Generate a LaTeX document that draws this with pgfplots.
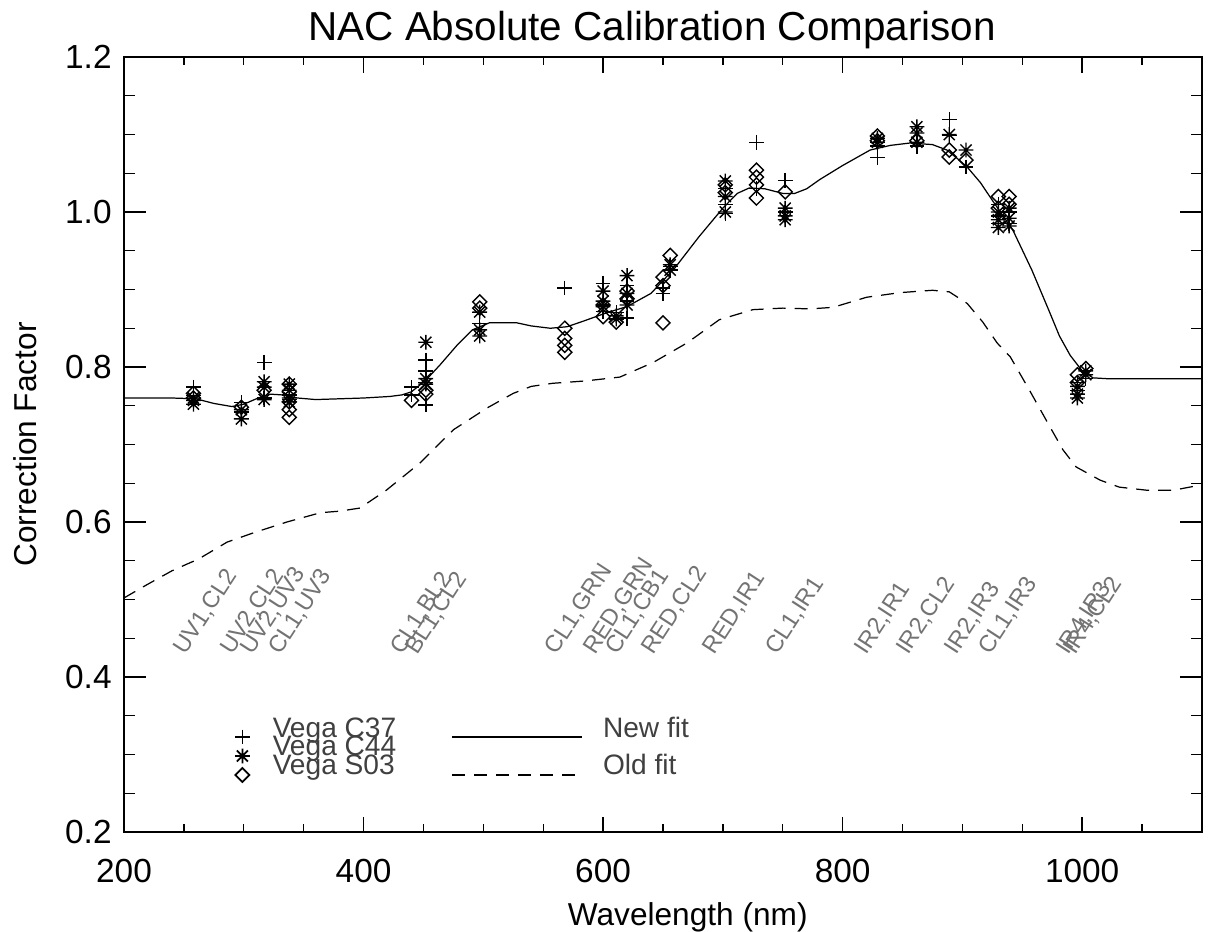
\documentclass[border=0pt]{standalone}
\usepackage{fontspec}
\setmainfont{Liberation Sans}
\usepackage{pgfplots}
\pgfplotsset{compat=1.18}

% IDL style asterisk (8 arms) and square diamond
\pgfdeclareplotmark{idlstar}{%
  \pgfpathmoveto{\pgfqpoint{-\pgfplotmarksize}{0pt}}\pgfpathlineto{\pgfqpoint{\pgfplotmarksize}{0pt}}%
  \pgfpathmoveto{\pgfqpoint{0pt}{-\pgfplotmarksize}}\pgfpathlineto{\pgfqpoint{0pt}{\pgfplotmarksize}}%
  \pgfpathmoveto{\pgfqpoint{-.75\pgfplotmarksize}{-.75\pgfplotmarksize}}\pgfpathlineto{\pgfqpoint{.75\pgfplotmarksize}{.75\pgfplotmarksize}}%
  \pgfpathmoveto{\pgfqpoint{-.75\pgfplotmarksize}{.75\pgfplotmarksize}}\pgfpathlineto{\pgfqpoint{.75\pgfplotmarksize}{-.75\pgfplotmarksize}}%
  \pgfusepathqstroke}
\pgfdeclareplotmark{idldiam}{%
  \pgfpathmoveto{\pgfqpoint{0pt}{\pgfplotmarksize}}%
  \pgfpathlineto{\pgfqpoint{\pgfplotmarksize}{0pt}}%
  \pgfpathlineto{\pgfqpoint{0pt}{-\pgfplotmarksize}}%
  \pgfpathlineto{\pgfqpoint{-\pgfplotmarksize}{0pt}}%
  \pgfpathclose\pgfusepathqstroke}

\pgfplotsset{
  longsolid/.style={legend image code/.code={\draw[black, line width=0.5pt] (0mm,0mm) -- (13mm,0mm);}},
  longdash/.style={legend image code/.code={\draw[black, line width=0.5pt, dash pattern=on 1.3mm off 0.9mm] (0mm,0mm) -- (13mm,0mm);}},
}
\newcommand{\flab}[2]{\node[rotate=57, anchor=base west, inner sep=0pt, text=black!55, font=\fontsize{6.7}{7}\selectfont] at (axis cs:#1,0.427) {#2};}

\begin{document}
\begin{tikzpicture}
\begin{axis}[
  scale only axis, width=107.8mm, height=77.5mm,
  xmin=200, xmax=1100, ymin=0.2, ymax=1.2,
  xtick={200,400,600,800,1000}, ytick={0.2,0.4,0.6,0.8,1.0,1.2},
  minor xtick={250,300,350,450,500,550,650,700,750,850,900,950,1050},
  minor ytick={0.25,0.3,0.35,0.45,0.5,0.55,0.65,0.7,0.75,0.85,0.9,0.95,1.05,1.1,1.15},
  tick align=inside,
  xtick style={black, line width=0.4pt, /pgfplots/major tick length=1.55mm, /pgfplots/minor tick length=0.78mm},
  ytick style={black, line width=0.4pt, /pgfplots/major tick length=2.16mm, /pgfplots/minor tick length=1.08mm},
  axis line style={line width=0.4pt},
  ticklabel style={font=\fontsize{9.5}{11}\selectfont},
  /pgf/number format/assume math mode=true,
  /pgf/number format/1000 sep={},
  yticklabel style={/pgf/number format/fixed, /pgf/number format/fixed zerofill, /pgf/number format/precision=1},
  xticklabel style={anchor=base, yshift=-5mm},
  title={NAC Absolute Calibration Comparison},
  every axis title/.style={at={(axis description cs:0.49,1)}, anchor=base, yshift=1.7mm, font=\fontsize{11.5}{13}\selectfont},
  xlabel={Wavelength (nm)},
  ylabel={Correction Factor},
  every axis x label/.style={at={(axis description cs:0.523,0)}, anchor=base, yshift=-9.3mm, font=\fontsize{9}{11}\selectfont},
  every axis y label/.style={at={(axis description cs:-0.092,0.5)}, rotate=90, anchor=center, font=\fontsize{9}{11}\selectfont},
  legend columns=2,
  legend cell align=left,
  legend style={at={(axis cs:292.7,0.343)}, anchor=north west, draw=none, fill=none,
    inner sep=0pt, outer sep=0pt, font=\fontsize{8}{9}\selectfont, text=black!75,
    nodes={inner sep=0pt, text height=4.5pt, text depth=0pt, anchor=base west},
    row sep=-1.2pt,
    /tikz/column 1/.style={column sep=2.3mm},
    /tikz/column 2/.style={column sep=5.5mm},
    /tikz/column 3/.style={column sep=2mm}},
]
\coordinate (axsw) at (rel axis cs:0,0);

% Old fit
\addplot[forget plot, black, line width=0.35pt, dash pattern=on 1.3mm off 0.9mm] coordinates {
(200,0.502) (219,0.519) (240,0.537) (253,0.546) (262,0.552) (286,0.574) (308,0.586)
(336,0.600) (364,0.612) (380,0.614) (397,0.618) (419,0.641) (447,0.676) (475,0.719)
(503,0.747) (525,0.766) (540,0.775) (558,0.779) (585,0.782) (614,0.787) (642,0.806)
(670,0.831) (697,0.861) (725,0.874) (750,0.876) (773,0.875) (792,0.877) (820,0.890)
(848,0.896) (875,0.899) (889,0.897) (904,0.882) (917,0.858) (929,0.831) (940,0.813)
(956,0.770) (973,0.723) (984,0.693) (995,0.671) (1015,0.654) (1031,0.645) (1054,0.641)
(1076,0.641) (1100,0.648)};

% New fit
\addplot[forget plot, black, line width=0.35pt] coordinates {
(200,0.760) (220,0.760) (240,0.760) (260,0.759) (275,0.753) (290,0.749) (300,0.752)
(312,0.760) (322,0.765) (332,0.764) (345,0.760) (360,0.758) (380,0.759) (400,0.760)
(422,0.762) (432,0.764) (440,0.768) (452,0.783) (464,0.803) (478,0.828) (491,0.848)
(505,0.857) (528,0.857) (540,0.853) (556,0.850) (570,0.852) (585,0.860) (603,0.870)
(620,0.878) (640,0.895) (660,0.928) (680,0.968) (700,1.005) (712,1.024) (722,1.031)
(735,1.030) (750,1.024) (760,1.024) (770,1.030) (781,1.042) (800,1.060) (823,1.080)
(840,1.086) (856,1.089) (875,1.087) (887,1.080) (895,1.070) (904,1.058) (915,1.038)
(925,1.015) (942,0.977) (958,0.925) (973,0.870) (981,0.840) (990,0.815) (1000,0.795)
(1009,0.786) (1020,0.785) (1100,0.785)};

% Vega C37
\addplot[forget plot, only marks, mark=+, mark size=2.1pt, black, line width=0.4pt] coordinates {
(258,0.774) (258,0.763) (298,0.754) (298,0.742) (317,0.806) (317,0.760)
(338,0.764) (338,0.758) (440,0.774) (440,0.764)
(452,0.809) (452,0.795) (452,0.751) (452,0.780) (497,0.870) (497,0.856)
(568,0.902) (600,0.908) (600,0.880) (600,0.872) (611,0.870) (611,0.862)
(620,0.905) (620,0.863) (620,0.885) (650,0.895) (650,0.902) (656,0.925) (656,0.930)
(702,1.030) (702,1.010) (702,0.998) (728,1.090) (728,1.030) (752,1.041) (752,1.000)
(829,1.070) (829,1.085) (862,1.090) (862,1.085) (889,1.119) (889,1.099) (903,1.058)
(930,0.995) (930,0.985) (930,1.010) (939,1.000) (939,0.985)
(996,0.770) (996,0.780) (1003,0.785)};

% Vega C44
\addplot[forget plot, only marks, mark=idlstar, mark size=2.1pt, black, line width=0.4pt] coordinates {
(258,0.757) (258,0.752) (258,0.760) (298,0.745) (298,0.733)
(317,0.781) (317,0.774) (317,0.758) (338,0.778) (338,0.770) (338,0.760) (338,0.755)
(452,0.832) (452,0.785) (452,0.778) (497,0.871) (497,0.848) (497,0.840)
(600,0.898) (600,0.885) (600,0.878) (611,0.866) (611,0.862)
(620,0.918) (620,0.895) (620,0.880) (656,0.932) (656,0.925)
(702,1.040) (702,1.020) (702,1.000) (752,1.005) (752,0.995) (752,0.990)
(829,1.095) (829,1.090) (862,1.110) (862,1.102) (862,1.090) (889,1.100) (903,1.080)
(930,0.980) (930,0.990) (930,1.000) (939,0.982) (939,0.992) (939,1.005)
(996,0.765) (996,0.760) (996,0.775) (1003,0.795) (1003,0.790)};

% Vega S03
\addplot[forget plot, only marks, mark=idldiam, mark size=2pt, black, line width=0.4pt] coordinates {
(258,0.766) (258,0.760) (298,0.748) (317,0.770)
(338,0.778) (338,0.768) (338,0.755) (338,0.745) (338,0.735)
(440,0.757) (452,0.770) (452,0.765) (497,0.884) (497,0.876)
(568,0.850) (568,0.837) (568,0.828) (568,0.819) (600,0.880) (600,0.865) (611,0.858)
(620,0.898) (620,0.888) (650,0.916) (650,0.857) (650,0.905) (656,0.944)
(702,1.025) (702,1.035) (728,1.054) (728,1.045) (728,1.035) (728,1.018) (752,1.026)
(829,1.098) (829,1.092) (862,1.092) (889,1.080) (889,1.071) (903,1.067)
(930,1.020) (930,1.005) (939,1.020) (939,1.010) (996,0.790) (996,0.780) (1003,0.798)};

% legend, row by row
\addlegendimage{only marks, mark=+, mark size=2.1pt, black, line width=0.5pt}
\addlegendentry{Vega C37}
\addlegendimage{longsolid}
\addlegendentry{New fit}
\addlegendimage{only marks, mark=idlstar, mark size=2.1pt, black, line width=0.5pt}
\addlegendentry{Vega C44}
\addlegendimage{empty legend}
\addlegendentry{}
\addlegendimage{only marks, mark=idldiam, mark size=2pt, black, line width=0.5pt}
\addlegendentry{Vega S03}
\addlegendimage{longdash}
\addlegendentry{Old fit}

% filter labels
\flab{251}{UV1,CL2}
\flab{290}{UV2,CL2}
\flab{307}{UV2,UV3}
\flab{330}{CL1,UV3}
\flab{432}{CL1,BL2}
\flab{444.6}{BL1,CL2}
\flab{561}{CL1,GRN}
\flab{593}{RED,GRN}
\flab{611.5}{CL1,CB1}
\flab{641.6}{RED,CL2}
\flab{693}{RED,IR1}
\flab{745}{CL1,IR1}
\flab{820}{IR2,IR1}
\flab{854.5}{IR2,CL2}
\flab{895}{IR2,IR3}
\flab{923}{CL1,IR3}
\flab{988}{IR4,IR3}
\flab{994}{IR4,CL2}
\end{axis}
\pgfresetboundingbox
\path (axsw) ++(-12.4mm,-9.9mm) rectangle ++(120.9mm,93.1mm);
\end{tikzpicture}
\end{document}
